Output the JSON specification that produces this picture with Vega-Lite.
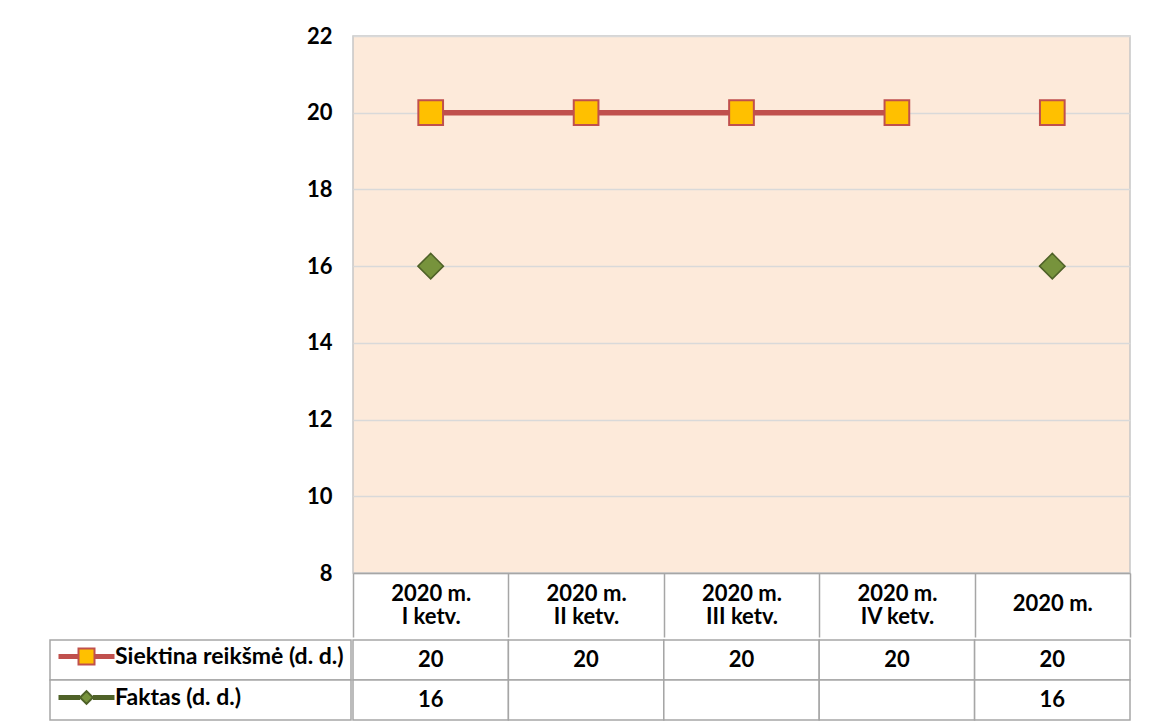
{
  "$schema": "https://vega.github.io/schema/vega-lite/v6.json",
  "background": "white",
  "padding": {"left": 49, "top": 25, "right": 0, "bottom": 0},
  "autosize": {"type": "pad"},
  "spacing": 0,
  "config": {"concat": {"spacing": 0}, "font": "Lato"},
  "datasets": {
    "d": [
      {"period": "2020 m.\nI ketv.", "type": "ketv.", "series": "Siektina reikšmė (d. d.)", "value": 20},
      {"period": "2020 m.\nII ketv.", "type": "ketv.", "series": "Siektina reikšmė (d. d.)", "value": 20},
      {"period": "2020 m.\nIII ketv.", "type": "ketv.", "series": "Siektina reikšmė (d. d.)", "value": 20},
      {"period": "2020 m.\nIV ketv.", "type": "ketv.", "series": "Siektina reikšmė (d. d.)", "value": 20},
      {"period": "2020 m.", "type": "metai", "series": "Siektina reikšmė (d. d.)", "value": 20},
      {"period": "2020 m.\nI ketv.", "type": "ketv.", "series": "Faktas (d. d.)", "value": 16},
      {"period": "2020 m.\nII ketv.", "type": "ketv.", "series": "Faktas (d. d.)", "value": null},
      {"period": "2020 m.\nIII ketv.", "type": "ketv.", "series": "Faktas (d. d.)", "value": null},
      {"period": "2020 m.\nIV ketv.", "type": "ketv.", "series": "Faktas (d. d.)", "value": null},
      {"period": "2020 m.", "type": "metai", "series": "Faktas (d. d.)", "value": 16}
    ]
  },
  "vconcat": [
    {
      "spacing": 0,
      "hconcat": [
        {
          "width": 301,
          "height": 537,
          "view": {"stroke": null},
          "data": {"name": "d"},
          "mark": {"type": "point", "size": 0},
          "encoding": {
            "y": {
              "field": "value", "type": "quantitative",
              "scale": {"domain": [8, 22], "nice": false, "zero": false},
              "axis": {
                "orient": "right", "title": null, "values": [8, 10, 12, 14, 16, 18, 20, 22],
                "grid": false, "ticks": false, "domain": false,
                "labelFont": "Lato", "labelFontSize": 22, "labelFontWeight": "bold", "labelColor": "#000000",
                "labelAlign": "right", "labelPadding": -19, "minExtent": 0, "maxExtent": 0
              }
            }
          }
        },
        {
          "width": 777,
          "height": 537,
          "view": {"fill": "#FDEADA", "stroke": "#C6C6C6", "strokeWidth": 1.5},
          "data": {"name": "d"},
          "encoding": {
            "x": {
              "field": "period", "type": "nominal", "sort": null,
              "scale": {"type": "band", "paddingInner": 0, "paddingOuter": 0},
              "axis": {
                "title": null, "labelExpr": "split(datum.label, '\\n')",
                "labelFont": "Lato", "labelFontSize": 22, "labelFontWeight": "bold", "labelColor": "#000000",
                "labelLineHeight": 23,
                "labelBaseline": {"condition": {"test": "length(split(datum.value, '\\n')) < 2", "value": "top"}, "value": "middle"},
                "labelPadding": -44, "labelAngle": 0,
                "tickBand": "extent", "tickSize": 64, "tickColor": "#A6A6A6", "tickWidth": 1.5,
                "domainColor": "#A6A6A6", "domainWidth": 1.5, "grid": false
              }
            },
            "y": {
              "field": "value", "type": "quantitative",
              "scale": {"domain": [8, 22], "nice": false, "zero": false},
              "axis": {
                "title": null, "values": [8, 10, 12, 14, 16, 18, 20, 22],
                "grid": true, "gridColor": "#D9D9D9", "gridWidth": 1.5,
                "ticks": false, "domain": false, "labels": false,
                "minExtent": 0, "maxExtent": 0
              }
            }
          },
          "layer": [
            {
              "transform": [{"filter": "datum.series === 'Siektina reikšmė (d. d.)'"}],
              "mark": {"type": "line", "color": "#C0504D", "strokeWidth": 5.5},
              "encoding": {"detail": {"field": "type"}}
            },
            {
              "transform": [{"filter": "datum.series === 'Siektina reikšmė (d. d.)'"}],
              "mark": {"type": "point", "shape": "square", "size": 610, "filled": true, "fill": "#FFC000", "stroke": "#C0504D", "strokeWidth": 2, "opacity": 1}
            },
            {
              "transform": [{"filter": "datum.series === 'Faktas (d. d.)' && datum.value != null"}],
              "mark": {"type": "point", "shape": "diamond", "size": 650, "filled": true, "fill": "#77933C", "stroke": "#4F6228", "strokeWidth": 1.5, "opacity": 1}
            }
          ]
        }
      ]
    },
    {
      "spacing": 0,
      "hconcat": [
        {
          "width": 301,
          "height": 80,
          "view": {"stroke": null},
          "data": {"name": "d"},
          "transform": [{"aggregate": [{"op": "count", "as": "n"}], "groupby": ["series"]}],
          "encoding": {
            "y": {"field": "series", "type": "nominal", "sort": null, "axis": null, "scale": {"paddingInner": 0, "paddingOuter": 0}}
          },
          "layer": [
            {
              "mark": {"type": "point", "size": 0, "filled": true},
              "encoding": {
                "shape": {
                  "field": "series", "type": "nominal", "sort": null,
                  "scale": {"range": [
                    "M-3.5,-0.2H-1M1,-0.2H3.5M-3.5,0H-1M1,0H3.5M-3.5,0.2H-1M1,0.2H3.5M-1,-1H1V1H-1Z",
                    "M-3.5,-0.2H-0.8M0.8,-0.2H3.5M-3.5,0H-0.8M0.8,0H3.5M-3.5,0.2H-0.8M0.8,0.2H3.5M-0.8,0L0,-0.8L0.8,0L0,0.8Z"
                  ]},
                  "legend": {"orient": "none", "legendX": 25, "legendY": 609, "title": null, "padding": 0, "symbolSize": 256, "symbolStrokeWidth": 2, "symbolOpacity": 1, "labelFont": "Lato", "labelFontSize": 23, "labelFontWeight": "bold", "labelColor": "#000000", "labelOffset": 17, "rowPadding": 17, "labelLimit": 0}
                },
                "fill": {
                  "field": "series", "type": "nominal", "sort": null,
                  "scale": {"range": ["#FFC000", "#77933C"]},
                  "legend": {"orient": "none", "legendX": 25, "legendY": 609, "title": null, "padding": 0, "symbolSize": 256, "symbolStrokeWidth": 2, "symbolOpacity": 1, "labelFont": "Lato", "labelFontSize": 23, "labelFontWeight": "bold", "labelColor": "#000000", "labelOffset": 17, "rowPadding": 17, "labelLimit": 0}
                },
                "stroke": {
                  "field": "series", "type": "nominal", "sort": null,
                  "scale": {"range": ["#C0504D", "#4F6228"]},
                  "legend": {"orient": "none", "legendX": 25, "legendY": 609, "title": null, "padding": 0, "symbolSize": 256, "symbolStrokeWidth": 2, "symbolOpacity": 1, "labelFont": "Lato", "labelFontSize": 23, "labelFontWeight": "bold", "labelColor": "#000000", "labelOffset": 17, "rowPadding": 17, "labelLimit": 0}
                }
              }
            },
            {
              "mark": {"type": "rect", "fill": "white", "stroke": "#A6A6A6", "strokeWidth": 1.5}
            }
          ]
        },
        {
          "width": 777,
          "height": 80,
          "view": {"stroke": null},
          "data": {"name": "d"},
          "encoding": {
            "x": {"field": "period", "type": "nominal", "sort": null, "axis": null, "scale": {"paddingInner": 0, "paddingOuter": 0}},
            "y": {"field": "series", "type": "nominal", "sort": null, "axis": null, "scale": {"paddingInner": 0, "paddingOuter": 0}}
          },
          "layer": [
            {"mark": {"type": "rect", "fill": "white", "stroke": "#A6A6A6", "strokeWidth": 1.5}},
            {
              "transform": [{"filter": "datum.value != null"}],
              "mark": {"type": "text", "font": "Lato", "fontSize": 22, "fontWeight": "bold", "color": "#000000"},
              "encoding": {"text": {"field": "value", "type": "quantitative"}}
            }
          ]
        }
      ]
    }
  ]
}
